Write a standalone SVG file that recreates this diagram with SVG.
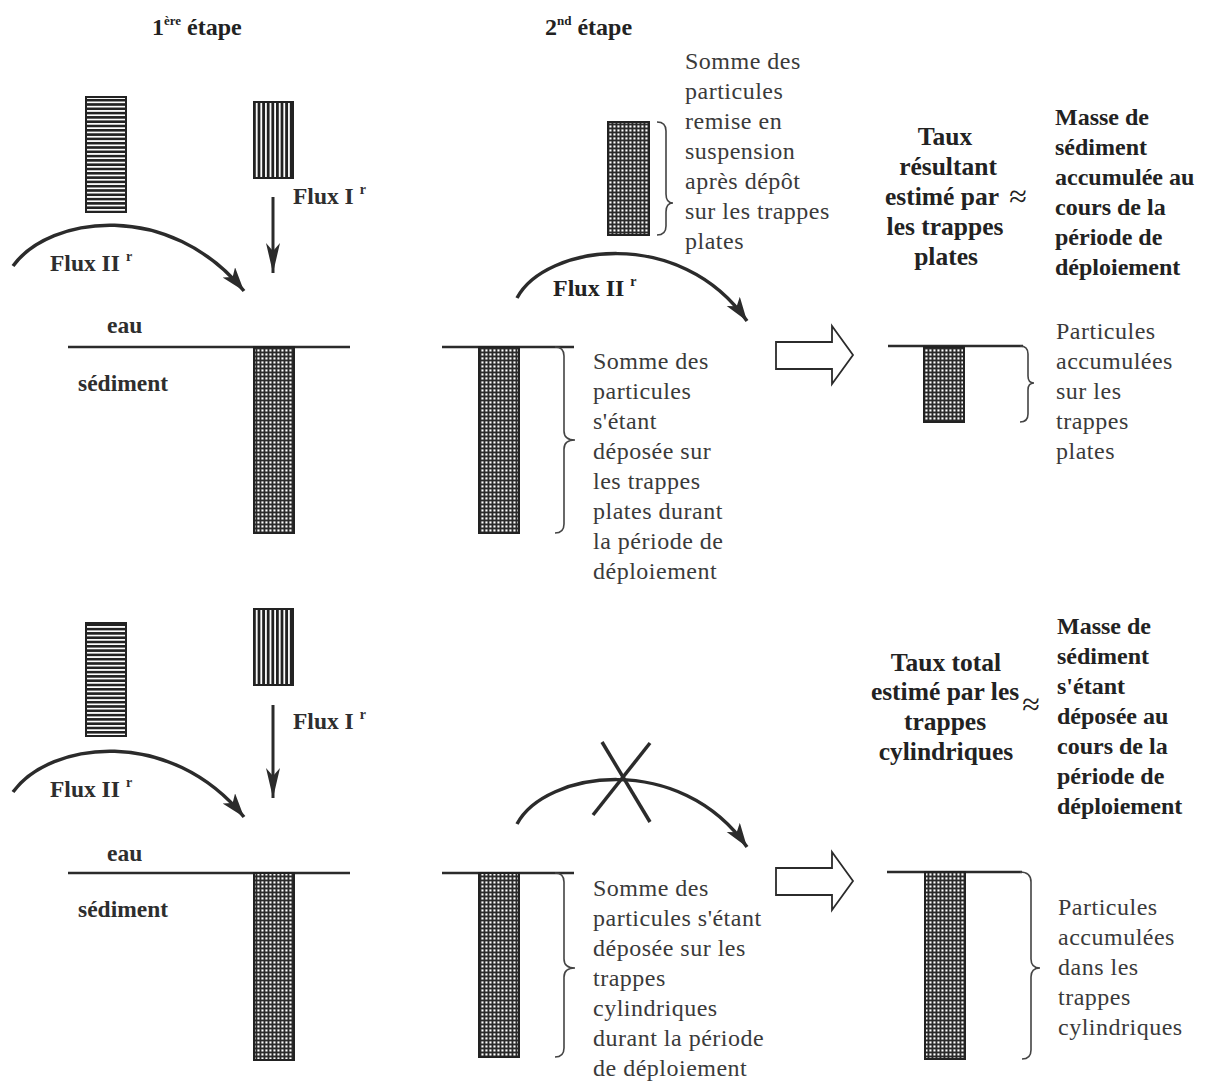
<svg xmlns="http://www.w3.org/2000/svg" width="1213" height="1085" viewBox="0 0 1213 1085">
<style>
text{font-family:"Liberation Serif","Times New Roman",serif}
.t{fill:#3a3a3a;font-size:24px;letter-spacing:0.5px}
.b{fill:#222;font-size:24px;font-weight:bold}
.r{font-size:25.5px}
.m{text-anchor:middle}
.ap{fill:#222;font-size:32px;text-anchor:middle}
.h{fill:#222;font-size:24px;font-weight:bold}
.sup{font-size:14px;font-weight:bold}
.lbl{fill:#2e2e2e;font-size:23.5px;font-weight:bold}
.water{stroke:#2b2b2b;stroke-width:2.5;fill:none}
.arc{stroke:#2b2b2b;stroke-width:3.5;fill:none;marker-end:url(#ah)}
.down{stroke:#2b2b2b;stroke-width:3;fill:none;marker-end:url(#ahd)}
.br{stroke:#444;stroke-width:1.6;fill:none}
.box{stroke:#222;stroke-width:2}
.hollow{fill:#fff;stroke:#2b2b2b;stroke-width:1.8;stroke-linejoin:miter}
.cross{stroke:#2b2b2b;stroke-width:3.5}
</style>
<defs>
<pattern id="hl" width="4" height="4.3" patternUnits="userSpaceOnUse"><rect width="4" height="4.3" fill="#fff"/><rect width="4" height="2.6" fill="#222"/></pattern>
<pattern id="vl" width="4.6" height="4" patternUnits="userSpaceOnUse"><rect width="4.6" height="4" fill="#fff"/><rect width="2.8" height="4" fill="#222"/></pattern>
<pattern id="gd" width="4" height="4" patternUnits="userSpaceOnUse"><rect width="4" height="4" fill="#2a2a2a"/><rect x="1.4" y="1.4" width="2.1" height="2.1" fill="#fff"/></pattern>
<marker id="ah" markerUnits="userSpaceOnUse" markerWidth="26" markerHeight="18" refX="24" refY="8" orient="auto"><path d="M0,0 L24,8 L0,16 L6,8 z" fill="#2b2b2b"/></marker>
<marker id="ahd" markerUnits="userSpaceOnUse" markerWidth="32" markerHeight="16" refX="30" refY="7" orient="auto"><path d="M0,0 L30,7 L0,14 L8,7 z" fill="#2b2b2b"/></marker>
</defs>
<rect width="1213" height="1085" fill="#fff"/>

<g id="headers">
<text class="h" x="152" y="35">1<tspan font-size="13" dy="-10">ère</tspan><tspan dy="10"> étape</tspan></text>
<text class="h" x="545" y="35">2<tspan font-size="13" dy="-10">nd</tspan><tspan dy="10"> étape</tspan></text>
</g>

<!-- Top row, stage 1 -->
<g id="s1-flux2-source"><rect class="box" x="86" y="97" width="40" height="115" fill="url(#hl)"/></g>
<g id="s1-flux1-source"><rect class="box" x="254" y="102" width="39" height="76" fill="url(#vl)"/></g>
<g id="s1-labels">
<text class="lbl" x="293" y="204">Flux I<tspan class="sup" dx="6" dy="-10">r</tspan></text>
<text class="lbl" x="50" y="271">Flux II<tspan class="sup" dx="6" dy="-10">r</tspan></text>
<text class="lbl" x="107" y="333">eau</text>
<text class="lbl" x="78" y="391">sédiment</text>
</g>
<g id="s1-trap">
<line class="water" x1="68" y1="347" x2="350" y2="347"/>
<rect class="box" x="254" y="347" width="40" height="186" fill="url(#gd)"/>
</g>

<!-- Top row, stage 2 -->
<g id="s2-resuspended">
<rect class="box" x="608" y="122" width="41" height="113" fill="url(#gd)"/>
<path class="br" d="M657,122 Q666,122 666,131 L666,194 Q666,203 673,203 Q666,203 666,212 L666,226 Q666,235 657,235"/>
<text class="t" x="685"><tspan x="685" y="69">Somme des</tspan><tspan x="685" y="99">particules</tspan><tspan x="685" y="129">remise en</tspan><tspan x="685" y="159">suspension</tspan><tspan x="685" y="189">après dépôt</tspan><tspan x="685" y="219">sur les trappes</tspan><tspan x="685" y="249">plates</tspan></text>
</g>
<g id="s2-flux-label"><text class="b" x="553" y="296" font-size="23">Flux II<tspan class="sup" dx="6" dy="-10">r</tspan></text></g>
<g id="s2-trap">
<line class="water" x1="442" y1="347" x2="574" y2="347"/>
<rect class="box" x="479" y="347" width="40" height="186" fill="url(#gd)"/>
<path class="br" d="M555,347 Q564,347 564,356 L564,431 Q564,440 575,440 Q564,440 564,449 L564,524 Q564,533 555,533"/>
<text class="t"><tspan x="593" y="369">Somme des</tspan><tspan x="593" y="399">particules</tspan><tspan x="593" y="429">s'étant</tspan><tspan x="593" y="459">déposée sur</tspan><tspan x="593" y="489">les trappes</tspan><tspan x="593" y="519">plates durant</tspan><tspan x="593" y="549">la période de</tspan><tspan x="593" y="579">déploiement</tspan></text>
</g>

<!-- Top row, result -->
<g id="r1-result">
<line class="water" x1="888" y1="346" x2="1023" y2="346"/>
<rect class="box" x="924" y="347" width="40" height="75" fill="url(#gd)"/>
<path class="br" d="M1020,346 Q1028,346 1028,354 L1028,376 Q1028,383 1034,383 Q1028,383 1028,390 L1028,414 Q1028,422 1020,422"/>
<text class="t"><tspan x="1056" y="339">Particules</tspan><tspan x="1056" y="369">accumulées</tspan><tspan x="1056" y="399">sur les</tspan><tspan x="1056" y="429">trappes</tspan><tspan x="1056" y="459">plates</tspan></text>
</g>
<g id="r1-rate">
<text class="b r m"><tspan x="945" y="145">Taux</tspan><tspan x="948" y="175">résultant</tspan><tspan x="942" y="205">estimé par</tspan><tspan x="945" y="235">les trappes</tspan><tspan x="946" y="265">plates</tspan></text>
<text class="ap" x="1018" y="207">≈</text>
</g>
<g id="r1-mass">
<text class="b"><tspan x="1055" y="125">Masse de</tspan><tspan x="1055" y="155">sédiment</tspan><tspan x="1055" y="185">accumulée au</tspan><tspan x="1055" y="215">cours de la</tspan><tspan x="1055" y="245">période de</tspan><tspan x="1055" y="275">déploiement</tspan></text>
</g>

<!-- Bottom row, stage 1 -->
<g id="b1-flux2-source"><rect class="box" x="86" y="623" width="40" height="113" fill="url(#hl)"/></g>
<g id="b1-flux1-source"><rect class="box" x="254" y="609" width="39" height="76" fill="url(#vl)"/></g>
<g id="b1-labels">
<text class="lbl" x="293" y="729">Flux I<tspan class="sup" dx="6" dy="-10">r</tspan></text>
<text class="lbl" x="50" y="797">Flux II<tspan class="sup" dx="6" dy="-10">r</tspan></text>
<text class="lbl" x="107" y="861">eau</text>
<text class="lbl" x="78" y="917">sédiment</text>
</g>
<g id="b1-trap">
<line class="water" x1="68" y1="873" x2="350" y2="873"/>
<rect class="box" x="254" y="873" width="40" height="187" fill="url(#gd)"/>
</g>

<!-- Bottom row, stage 2 -->
<g id="b2-trap">
<line class="water" x1="442" y1="873" x2="574" y2="873"/>
<rect class="box" x="479" y="873" width="40" height="184" fill="url(#gd)"/>
<path class="br" d="M555,873 Q564,873 564,882 L564,959 Q564,968 575,968 Q564,968 564,977 L564,1048 Q564,1057 555,1057"/>
<text class="t"><tspan x="593" y="896">Somme des</tspan><tspan x="593" y="926">particules s'étant</tspan><tspan x="593" y="956">déposée sur les</tspan><tspan x="593" y="986">trappes</tspan><tspan x="593" y="1016">cylindriques</tspan><tspan x="593" y="1046">durant la période</tspan><tspan x="593" y="1076">de déploiement</tspan></text>
</g>

<!-- Bottom row, result -->
<g id="r2-result">
<line class="water" x1="887" y1="872" x2="1022" y2="872"/>
<rect class="box" x="925" y="872" width="40" height="187" fill="url(#gd)"/>
<path class="br" d="M1020,872 Q1031,872 1031,882 L1031,959 Q1031,968 1040,968 Q1031,968 1031,977 L1031,1050 Q1031,1059 1022,1059"/>
<text class="t"><tspan x="1058" y="915">Particules</tspan><tspan x="1058" y="945">accumulées</tspan><tspan x="1058" y="975">dans les</tspan><tspan x="1058" y="1005">trappes</tspan><tspan x="1058" y="1035">cylindriques</tspan></text>
</g>
<g id="r2-rate">
<text class="b r m"><tspan x="946" y="671">Taux total</tspan><tspan x="945" y="700">estimé par les</tspan><tspan x="945" y="730">trappes</tspan><tspan x="946" y="760">cylindriques</tspan></text>
<text class="ap" x="1031" y="715">≈</text>
</g>
<g id="r2-mass">
<text class="b"><tspan x="1057" y="634">Masse de</tspan><tspan x="1057" y="664">sédiment</tspan><tspan x="1057" y="694">s'étant</tspan><tspan x="1057" y="724">déposée au</tspan><tspan x="1057" y="754">cours de la</tspan><tspan x="1057" y="784">période de</tspan><tspan x="1057" y="814">déploiement</tspan></text>
</g>

<g id="connectors">
<line class="down" x1="273" y1="197" x2="273" y2="273"/>
<path class="arc" d="M13,266 C50,215 170,200 244,291"/>
<path class="arc" d="M517,298 C545,245 680,225 747,321"/>
<polygon class="hollow" points="776,342 832,342 832,326 853,355 832,384 832,369 776,369"/>
<line class="down" x1="273" y1="705" x2="273" y2="798"/>
<path class="arc" d="M13,792 C50,741 170,726 244,817"/>
<path class="arc" d="M517,824 C545,771 680,751 747,847"/>
<line class="cross" x1="602" y1="742" x2="650" y2="822"/>
<line class="cross" x1="650" y1="743" x2="593" y2="815"/>
<polygon class="hollow" points="776,868 832,868 832,852 853,881 832,910 832,895 776,895"/>
</g>
</svg>
